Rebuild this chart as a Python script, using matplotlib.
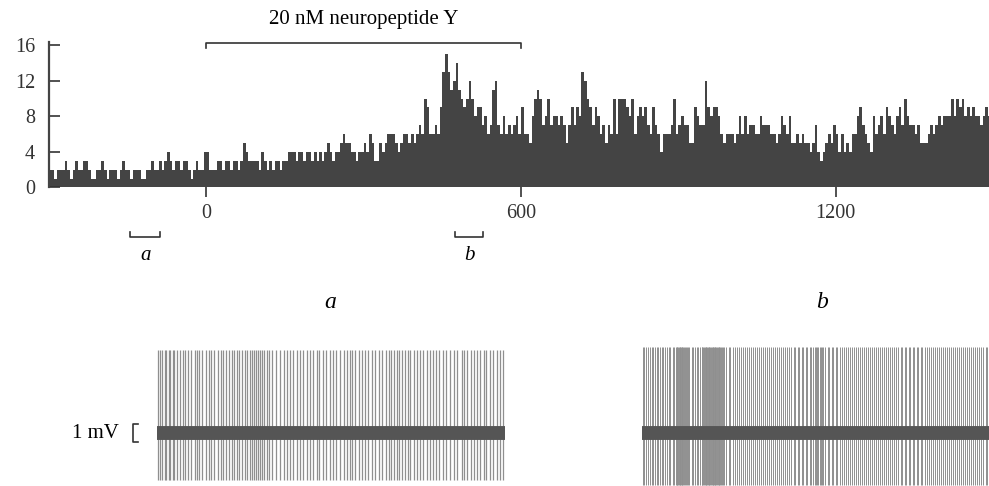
import numpy as np
import matplotlib
matplotlib.use("Agg")
import matplotlib.pyplot as plt

plt.rcParams['font.family'] = ['Liberation Serif', 'DejaVu Serif']

# firing rate histogram, 5 s bins from -300 s to 1500 s (spikes per bin)
bin_start = -300
bin_width = 5
rate_m300 = [2,2,1,2,2,2,3,2,1,2, 3,2,2,3,3,2,1,1,2,2, 3,2,1,2,2,2,1,2,3,2,
             2,1,2,2,2,1,1,2,2,3, 2,2,3,2,3,4,3,2,3,3, 2,3,3,2,1,2,3,2,2,4]
rate_0 = [4,2,2,2,3,3,2,3,3,2, 3,3,2,3,5,4,3,3,3,3, 2,4,3,2,3,2,3,3,2,3,
          3,4,4,4,3,4,4,3,4,4, 3,4,3,4,3,4,5,4,3,4, 4,5,6,5,5,4,4,3,4,4]
rate_300 = [5,4,6,5,3,3,5,4,5,6, 6,6,5,4,5,6,6,5,6,5, 6,7,6,10,9,6,6,7,6,9,
            13,15,13,11,12,14,11,10,9,10, 12,10,8,9,9,7,8,6,7,11, 12,7,6,8,6,7,6,7,8,6]
rate_600 = [9,6,6,5,8,10,11,10,7,8, 10,7,8,8,7,8,7,5,7,9, 7,9,8,13,12,10,9,7,9,8,
            6,7,5,7,6,10,6,10,10,10, 9,8,10,6,8,9,8,9,7,6, 9,7,6,4,6,6,6,7,10,6]
rate_900 = [7,8,7,7,5,5,9,8,7,7, 12,9,8,9,9,8,6,5,6,6, 6,5,6,8,6,8,6,7,7,6,
            6,8,7,7,7,6,6,5,6,8, 7,6,8,5,5,6,5,6,5,5, 4,5,7,4,3,4,5,6,5,7]
rate_1200 = [6,4,6,4,5,4,6,6,8,9, 7,6,5,4,8,6,7,8,6,9, 8,7,6,8,9,7,10,8,7,7,
             6,7,5,5,5,6,7,6,7,8, 7,8,8,8,10,8,10,9,10,8, 9,8,9,8,8,7,8,9,8,8]

y_ticks = [0, 4, 8, 12, 16]
x_ticks = [0, 600, 1200]
drug_on, drug_off = 0, 600
drug_label = "20 nM neuropeptide Y"
window_a = (-145, -88)
window_b = (474, 528)

# spike times (s) in the two sample traces
spikes_a = [0.2,0.6,0.9,1.3,1.6,2.0,2.3,2.7,3.0,3.5,3.9,4.4,4.8,5.3,5.9,
            6.5,6.9,7.3,7.8,8.4,8.9,9.3,9.9,10.5,11.0,11.4,11.9,12.4,12.9,
            13.3,13.8,14.2,14.7,15.2,15.6,16.0,16.3,16.7,17.0,17.4,17.8,18.1,
            18.5,18.9,19.3,19.9,20.6,21.2,21.9,22.4,23.0,23.5,24.1,24.7,25.2,
            25.8,26.3,26.9,27.5,28.0,28.7,29.2,29.8,30.3,30.9,31.6,32.2,32.7,
            33.2,33.7,34.2,34.8,35.3,35.9,36.4,37.0,37.6,38.2,38.8,39.4,40.0,
            40.4,40.8,41.3,41.7,42.2,42.7,43.2,43.7,44.3,44.8,45.4,45.9,46.5,
            47.0,47.6,48.1,48.7,49.3,49.9,50.6,51.2,51.8,52.5,53.0,53.5,54.1,
            54.6,55.2,55.7,56.3,56.8,57.4,58.0,58.6,59.2,59.7]
spikes_b = [0.1,0.4,0.7,1.0,1.3,1.7,1.9,2.2,2.6,2.8,3.1,3.5,3.7,4.0,4.4,4.6,
            4.9,5.3,5.5,5.9,6.0,6.1,6.25,6.4,6.5,6.6,6.75,6.9,7.0,7.15,7.3,
            7.45,7.6,7.75,7.9,8.2,8.6,8.8,9.1,9.5,9.7,10.0,10.3,10.45,10.6,
            10.7,10.85,11.0,11.1,11.25,11.4,11.5,11.65,11.8,11.9,12.05,12.2,
            12.3,12.45,12.6,12.7,12.85,13.0,13.1,13.25,13.4,13.55,13.7,13.85,
            14.0,14.2,14.6,15.0,15.3,15.7,16.0,16.4,16.7,17.1,17.4,17.8,18.1,
            18.5,18.8,19.2,19.5,19.9,20.2,20.6,20.9,21.3,21.6,22.0,22.3,22.7,
            23.0,23.4,23.7,24.1,24.4,24.8,25.1,25.5,25.8,26.2,26.5,26.9,27.2,
            27.6,27.9,28.3,28.6,29.0,29.3,29.6,29.9,30.1,30.3,30.5,30.7,30.9,
            31.1,31.3,31.7,32.1,32.4,32.8,33.1,33.5,33.8,34.2,34.5,34.9,35.2,
            35.6,35.9,36.3,36.6,37.0,37.3,37.7,38.0,38.4,38.7,39.1,39.4,39.8,
            40.1,40.5,40.8,41.2,41.5,41.9,42.2,42.6,42.9,43.3,43.6,44.0,44.3,
            44.7,45.0,45.4,45.7,46.1,46.4,46.8,47.1,47.5,47.8,48.2,48.5,48.9,
            49.2,49.6,49.9,50.3,50.6,51.0,51.3,51.7,52.0,52.4,52.7,53.1,53.4,
            53.8,54.1,54.5,54.8,55.2,55.5,55.9,56.2,56.6,56.9,57.3,57.6,58.0,
            58.3,58.7,59.0,59.4,59.7]
spike_up_a, spike_down_a = 4.6, -2.6
spike_up_b, spike_down_b = 4.8, -2.9
trace_len = 60

W, H = 989, 486
fig = plt.figure(figsize=(W / 100, H / 100), dpi=100)


def px_axes(x0, y0, x1, y1):
    # axes placed by pixel box (top-left origin)
    return fig.add_axes([x0 / W, 1 - y1 / H, (x1 - x0) / W, (y1 - y0) / H])


# --- rate histogram ---
counts = rate_m300 + rate_0 + rate_300 + rate_600 + rate_900 + rate_1200
edges = bin_start + bin_width * np.arange(len(counts) + 1)

ax = px_axes(49, 41.7, 989, 187.4)
ax.stairs(counts, edges, fill=True, color='#444444', lw=0)
ax.set_xlim(-300, 1492)
ax.set_ylim(0, 16.4)
for s in ['top', 'right', 'bottom']:
    ax.spines[s].set_visible(False)
ax.spines['left'].set_linewidth(1.6)
ax.spines['left'].set_color('#444444')
ax.set_yticks(y_ticks)
ax.set_xticks(x_ticks)
ax.tick_params(axis='y', direction='in', length=8, width=1.2, pad=10,
               labelsize=14.5, colors='#333333')
ax.tick_params(axis='x', direction='out', length=7, width=1.2, pad=5,
               labelsize=14.5, colors='#333333')

# drug application bar
ax.plot([drug_on, drug_on, drug_off, drug_off], [15.7, 16.2, 16.2, 15.7],
        color='#333333', lw=1.2, clip_on=False)
ax.text((drug_on + drug_off) / 2, 18.9, drug_label, ha='center', va='center',
        fontsize=15)

# sample windows
for (t0, t1), lab in [(window_a, 'a'), (window_b, 'b')]:
    ax.plot([t0, t0, t1, t1], [-5.0, -5.6, -5.6, -5.0], color='#333333',
            lw=1.2, clip_on=False)
    ax.text((t0 + t1) / 2, -7.7, lab, ha='center', va='center', fontsize=15,
            style='italic')

fig.text(330 / W, 1 - 303 / H, 'a', ha='center', va='center', fontsize=17,
         style='italic')
fig.text(822 / W, 1 - 303 / H, 'b', ha='center', va='center', fontsize=17,
         style='italic')

# --- sample traces ---
mv_px = 18.0
for spikes, up, down, (x0, x1), lw in [
        (spikes_a, spike_up_a, spike_down_a, (157, 505), 0.9),
        (spikes_b, spike_up_b, spike_down_b, (642, 989), 0.7)]:
    tx = px_axes(x0, 340, x1, 486)
    tx.set_xlim(0, trace_len)
    tx.set_ylim(-53 / mv_px, 93 / mv_px)
    tx.axis('off')
    tx.vlines(spikes, down, up, color='#8f8f8f', lw=lw)
    tx.plot([0, trace_len], [0, 0], color='#555555', lw=10,
            solid_capstyle='butt')
    if spikes is spikes_a:
        # 1 mV scale bracket
        tx.plot([-3.3, -4.2, -4.2, -3.3], [-0.5, -0.5, 0.5, 0.5],
                color='#333333', lw=1.2, clip_on=False)
        tx.text(-6.5, 0, '1 mV', ha='right', va='center', fontsize=15)

fig.savefig('out.png', dpi=100)
